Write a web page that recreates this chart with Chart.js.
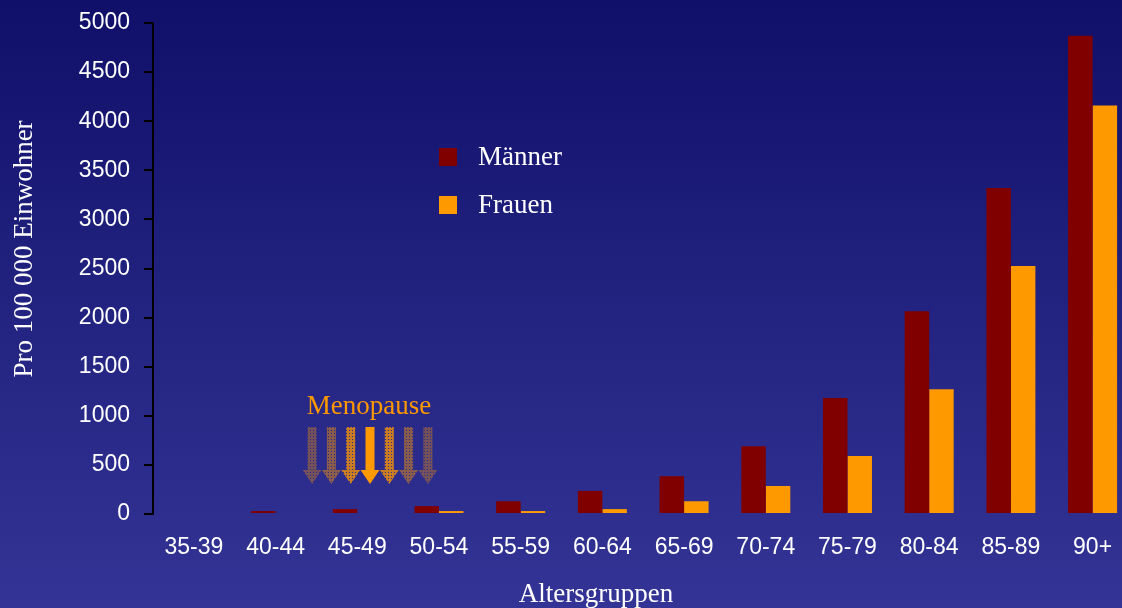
<!DOCTYPE html>
<html>
<head>
<meta charset="utf-8">
<script src="https://cdn.jsdelivr.net/npm/chart.js@4/dist/chart.umd.min.js"></script>
<style>
  html, body { margin: 0; padding: 0; background: #222288; }
  #wrap { width: 1122px; height: 608px; position: relative; }
</style>
</head>
<body>
<div id="wrap"><canvas id="c"></canvas></div>
<script>
// ---- data ----
const categories = ['35-39','40-44','45-49','50-54','55-59','60-64','65-69','70-74','75-79','80-84','85-89','90+'];
const maenner = [0, 30, 50, 80, 130, 235, 385, 690, 1180, 2065, 3320, 4870];
const frauen  = [0, 0, 0, 30, 30, 50, 130, 285, 590, 1270, 2525, 4160];
const seriesNames = ['Männer', 'Frauen'];
const yTicks = [0, 500, 1000, 1500, 2000, 2500, 3000, 3500, 4000, 4500, 5000];
const annotationText = 'Menopause';

const colMen = '#800000';
const colWomen = '#FF9900';
const SERIF = '"Liberation Serif", "Times New Roman", serif';
const SANS = '"Liberation Sans", Arial, sans-serif';

const bgPlugin = {
  id: 'bg',
  beforeDraw(chart) {
    const ctx = chart.ctx;
    const g = ctx.createLinearGradient(0, 0, 0, chart.height);
    g.addColorStop(0, '#10106a');
    g.addColorStop(1, '#343496');
    ctx.save();
    ctx.fillStyle = g;
    ctx.fillRect(0, 0, chart.width, chart.height);
    ctx.restore();
  }
};

const titlesPlugin = {
  id: 'titles',
  afterDraw(chart) {
    const ctx = chart.ctx;
    ctx.save();
    ctx.fillStyle = '#ffffff';
    ctx.font = '27px ' + SERIF;
    ctx.textAlign = 'center';
    ctx.textBaseline = 'alphabetic';
    ctx.fillText(chart.options.scales.x.title.text, 596, 602);
    ctx.translate(32, 249);
    ctx.rotate(-Math.PI / 2);
    ctx.fillText(chart.options.scales.y.title.text, 0, 0);
    ctx.restore();
  }
};

const legendPlugin = {
  id: 'customLegend',
  afterDraw(chart) {
    const ctx = chart.ctx;
    ctx.save();
    ctx.font = '27px ' + SERIF;
    ctx.textBaseline = 'alphabetic';
    ctx.textAlign = 'left';
    chart.data.datasets.forEach((ds, i) => {
      const y = 148 + i * 48;
      ctx.fillStyle = ds.backgroundColor;
      ctx.fillRect(439, y, 18, 18);
      ctx.fillStyle = '#ffffff';
      ctx.fillText(ds.label, 478, y + 16.5);
    });
    ctx.restore();
  }
};

function makePattern(ctx) {
  const p = document.createElement('canvas');
  p.width = 3; p.height = 3;
  const pc = p.getContext('2d');
  pc.fillStyle = colWomen;
  pc.fillRect(0, 0, 3, 3);
  pc.clearRect(1, 1, 1, 1);
  return ctx.createPattern(p, 'repeat');
}

const menoPlugin = {
  id: 'meno',
  afterDatasetsDraw(chart) {
    const ctx = chart.ctx;
    ctx.save();
    ctx.fillStyle = colWomen;
    ctx.font = '27px ' + SERIF;
    ctx.textAlign = 'center';
    ctx.textBaseline = 'alphabetic';
    ctx.fillText(annotationText, 369, 414);
    const alphas = [0.35, 0.45, 0.75, 1, 0.75, 0.45, 0.35];
    const pat = makePattern(ctx);
    alphas.forEach((a, k) => {
      const cx = 370 + (k - 3) * 19.3;
      ctx.globalAlpha = a;
      ctx.fillStyle = (k === 3) ? colWomen : pat;
      ctx.beginPath();
      ctx.moveTo(cx - 4.5, 427);
      ctx.lineTo(cx + 4.5, 427);
      ctx.lineTo(cx + 4.5, 470);
      ctx.lineTo(cx + 9.5, 470);
      ctx.lineTo(cx, 484);
      ctx.lineTo(cx - 9.5, 470);
      ctx.lineTo(cx - 4.5, 470);
      ctx.closePath();
      ctx.fill();
    });
    ctx.restore();
  }
};

new Chart(document.getElementById('c'), {
  type: 'bar',
  data: {
    datasets: [
      { label: seriesNames[0], data: categories.map((c, i) => ({ x: i, y: maenner[i] })), backgroundColor: colMen, borderWidth: 0 },
      { label: seriesNames[1], data: categories.map((c, i) => ({ x: i, y: frauen[i] })), backgroundColor: colWomen, borderWidth: 0 }
    ]
  },
  options: {
    responsive: true,
    maintainAspectRatio: false,
    animation: false,
    devicePixelRatio: 1,
    categoryPercentage: 0.6,
    barPercentage: 1.0,
    layout: { padding: { top: 23, left: 0, right: 0, bottom: 0 } },
    plugins: { legend: { display: false }, tooltip: { enabled: false }, title: { display: false } },
    scales: {
      x: {
        type: 'linear',
        offset: false,
        min: -0.5,
        max: 11.36,
        title: { display: false, text: 'Altersgruppen' },
        grid: { display: false, drawTicks: false },
        border: { display: false },
        afterBuildTicks(scale) { scale.ticks = categories.map((c, i) => ({ value: i })); },
        afterFit(scale) { scale.height = 94; scale.paddingLeft = 0; scale.paddingRight = 0; },
        ticks: {
          color: '#ffffff',
          font: { family: SANS, size: 23 },
          padding: 20,
          maxRotation: 0,
          autoSkip: false,
          callback: (v) => categories[v]
        }
      },
      y: {
        min: 0,
        max: 5000,
        title: { display: false, text: 'Pro 100 000 Einwohner' },
        afterBuildTicks(scale) { scale.ticks = yTicks.map(v => ({ value: v })); },
        afterFit(scale) { scale.width = 153; scale.paddingTop = 0; scale.paddingBottom = 0; },
        grid: { drawOnChartArea: false, drawTicks: true, tickLength: 9, color: '#000000', lineWidth: 2 },
        border: { display: true, color: '#000000', width: 2 },
        ticks: {
          color: '#ffffff',
          font: { family: SANS, size: 23 },
          padding: 14,
          callback: (v) => String(v)
        }
      }
    }
  },
  plugins: [bgPlugin, menoPlugin, titlesPlugin, legendPlugin]
});
</script>
</body>
</html>
